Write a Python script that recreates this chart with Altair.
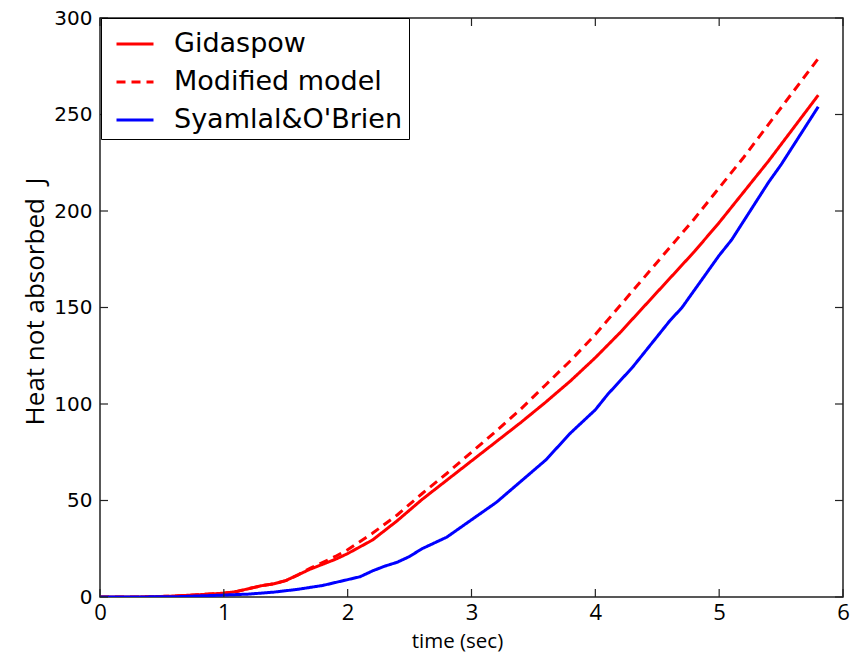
import altair as alt
import pandas as pd

# ---- data ----
series_names = ["Gidaspow", "Modified model", "Syamlal&O'Brien"]

t_gidaspow = [0, 0.2, 0.4, 0.6, 0.8, 1.0, 1.1, 1.2, 1.3, 1.4, 1.5, 1.6, 1.7, 1.8, 1.9, 2.0,
              2.2, 2.4, 2.6, 2.8, 3.0, 3.2, 3.4, 3.6, 3.8, 4.0, 4.2, 4.4, 4.6, 4.8, 5.0,
              5.2, 5.4, 5.6, 5.8]
q_gidaspow = [0, 0, 0.1, 0.5, 1.2, 2.0, 2.8, 4.3, 5.8, 6.8, 8.5, 11.5, 14.5, 17, 19.5, 22.5,
              29.5, 39.5, 50.5, 60.5, 70.5, 80.5, 90.5, 101, 112, 124, 137, 151, 165, 179, 194,
              210, 226, 243, 260]

t_modified = [0, 0.2, 0.4, 0.6, 0.8, 1.0, 1.1, 1.2, 1.3, 1.4, 1.5, 1.6, 1.7, 1.8, 1.9, 2.0,
              2.2, 2.4, 2.6, 2.8, 3.0, 3.2, 3.4, 3.6, 3.8, 4.0, 4.2, 4.4, 4.6, 4.8, 5.0,
              5.2, 5.4, 5.6, 5.8]
q_modified = [0, 0, 0.1, 0.5, 1.2, 2.0, 2.8, 4.3, 5.8, 6.8, 8.5, 11.5, 15, 18, 21, 24.5,
              33, 42.5, 53.5, 64, 75, 86, 97.5, 110, 122.5, 136, 151, 166, 181, 196, 212,
              228, 245, 262, 279]

t_syamlal = [0, 0.6, 1.0, 1.2, 1.4, 1.6, 1.8, 1.9, 2.0, 2.1, 2.2, 2.3, 2.4, 2.5, 2.6, 2.7,
             2.8, 2.9, 3.0, 3.1, 3.2, 3.3, 3.4, 3.5, 3.6, 3.7, 3.8, 3.9, 4.0, 4.1, 4.2, 4.3,
             4.4, 4.5, 4.6, 4.7, 4.8, 4.9, 5.0, 5.1, 5.2, 5.3, 5.4, 5.5, 5.6, 5.7, 5.8]
q_syamlal = [0, 0.1, 1.0, 1.5, 2.5, 4.0, 6.0, 7.5, 9.0, 10.5, 13.5, 16, 18, 21, 25, 28,
             31, 35.5, 40, 44.5, 49, 54.5, 60, 65.5, 71, 78, 85, 91, 97, 105, 112, 119,
             127, 135, 143, 150, 159, 168, 177, 185, 195, 205, 215, 224, 234, 244, 254]

x_ticks = [0, 1, 2, 3, 4, 5, 6]
y_ticks = [0, 50, 100, 150, 200, 250, 300]

colors = ["#ff0000", "#ff0000", "#0000ff"]
dashes = [[1, 0], [9, 6], [1, 0]]

# ---- tables ----
frames = []
for name, ts, qs in [(series_names[0], t_gidaspow, q_gidaspow),
                     (series_names[1], t_modified, q_modified),
                     (series_names[2], t_syamlal, q_syamlal)]:
    frames.append(pd.DataFrame({"time": ts, "heat": qs, "model": name,
                                "order": list(range(len(ts)))}))
df = pd.concat(frames, ignore_index=True)
xt = pd.DataFrame({"v": x_ticks})
yt = pd.DataFrame({"v": y_ticks})

W, H = 743, 579
xscale = alt.Scale(domain=[0, 6], nice=False)
yscale = alt.Scale(domain=[0, 300], nice=False)

x_axis = alt.Axis(values=x_ticks, title="time (sec)", grid=False, domain=False,
                  ticks=False, tickSize=0, labelFont="Open Sans", labelFontSize=22,
                  labelColor="black", labelPadding=5, labelFlush=False,
                  titleFont="Open Sans", titleFontSize=20.5, titleFontWeight="normal",
                  titleColor="black", titlePadding=8, titleX=357, format="d")
y_axis = alt.Axis(values=y_ticks, title="Heat not absorbed\u00a0\u00a0J", grid=False,
                  domain=False, ticks=False, tickSize=0, labelFont="DejaVu Sans",
                  labelFontSize=20, labelColor="black", labelPadding=8, labelFlush=False,
                  titleFont="Open Sans", titleFontSize=26, titleFontWeight="normal",
                  titleColor="black", titlePadding=5, titleY=283, format="d")

legend = alt.Legend(
    title=None, orient="none", legendX=1, legendY=0,
    symbolType="stroke", symbolSize=1369, symbolStrokeWidth=3,
    symbolOffset=8, labelFont="DejaVu Sans", labelFontSize=27, labelLimit=500,
    labelColor="black", labelOffset=19, rowPadding=5, padding=6,
    fillColor="white", strokeColor="black",
)

lines = alt.Chart(df).mark_line(strokeWidth=3, strokeCap="butt", clip=True).encode(
    x=alt.X("time:Q", scale=xscale, axis=x_axis),
    y=alt.Y("heat:Q", scale=yscale, axis=y_axis),
    color=alt.Color("model:N", scale=alt.Scale(domain=series_names, range=colors), legend=legend),
    strokeDash=alt.StrokeDash("model:N", scale=alt.Scale(domain=series_names, range=dashes),
                              legend=legend),
    order="order:Q",
)

tick_style = dict(color="#222222", strokeWidth=1.2)
bottom_ticks = alt.Chart(xt).mark_rule(**tick_style).encode(
    x=alt.X("v:Q", scale=xscale, axis=x_axis), y=alt.value(H), y2=alt.value(H - 8))
top_ticks = alt.Chart(xt).mark_rule(**tick_style).encode(
    x=alt.X("v:Q", scale=xscale, axis=x_axis), y=alt.value(0), y2=alt.value(8))
left_ticks = alt.Chart(yt).mark_rule(**tick_style).encode(
    y=alt.Y("v:Q", scale=yscale, axis=y_axis), x=alt.value(0), x2=alt.value(8))
right_ticks = alt.Chart(yt).mark_rule(**tick_style).encode(
    y=alt.Y("v:Q", scale=yscale, axis=y_axis), x=alt.value(W), x2=alt.value(W - 8))

chart = alt.layer(lines, bottom_ticks, top_ticks, left_ticks, right_ticks).properties(
    width=W, height=H,
    autosize=alt.AutoSizeParams(type="none"),
    padding={"left": 100, "top": 18, "right": 11, "bottom": 58},
    background="white",
).configure_view(stroke="#222222", strokeWidth=1.5)

chart.save("out.html", embed_options={"renderer": "svg", "actions": False})
